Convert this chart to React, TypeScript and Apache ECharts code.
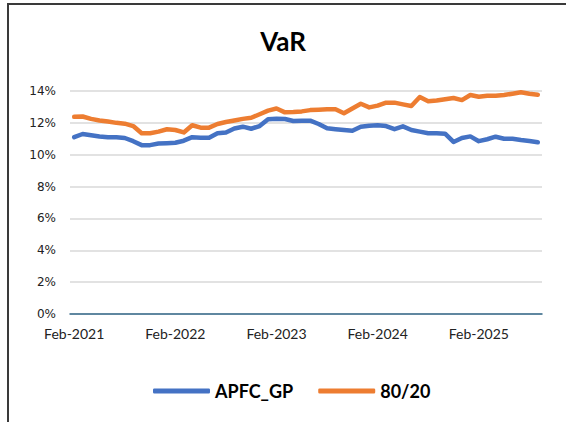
import React, { useEffect, useRef } from "react";
import * as echarts from "echarts";

const months = ["Jan","Feb","Mar","Apr","May","Jun","Jul","Aug","Sep","Oct","Nov","Dec"];
// Monthly categories Feb-2021 .. Sep-2025
const categories: string[] = [];
for (let y = 2021; y <= 2025; y++) {
  for (let m = 0; m < 12; m++) {
    if (y === 2021 && m < 1) continue;
    if (y === 2025 && m > 8) continue;
    categories.push(`${months[m]}-${y}`);
  }
}

const apfcGP = [
  11.1, 11.3, 11.22, 11.15, 11.1, 11.1, 11.05, 10.85, 10.6, 10.6,
  10.7, 10.72, 10.75, 10.88, 11.1, 11.07, 11.07, 11.35, 11.4, 11.65,
  11.76, 11.63, 11.8, 12.22, 12.26, 12.24, 12.12, 12.14, 12.14, 11.93,
  11.66, 11.6, 11.55, 11.5, 11.75, 11.82, 11.85, 11.8, 11.6, 11.78,
  11.55, 11.45, 11.35, 11.35, 11.32, 10.8, 11.05, 11.15, 10.85, 10.97,
  11.13, 11.0, 11.0, 10.92, 10.86, 10.78,
];

const eightyTwenty = [
  12.38, 12.4, 12.25, 12.15, 12.08, 12.0, 11.95, 11.8, 11.35, 11.35,
  11.45, 11.6, 11.55, 11.4, 11.85, 11.7, 11.7, 11.93, 12.05, 12.15,
  12.25, 12.32, 12.54, 12.77, 12.9, 12.66, 12.68, 12.72, 12.8, 12.83,
  12.85, 12.85, 12.6, 12.9, 13.2, 12.97, 13.08, 13.27, 13.27, 13.16,
  13.06, 13.62, 13.35, 13.4, 13.48, 13.56, 13.43, 13.75, 13.64, 13.7,
  13.7, 13.75, 13.83, 13.92, 13.83, 13.77,
];

const seriesNames = ["APFC_GP", "80/20"];
const colors = ["#4472C4", "#ED7D31"];

export default function App() {
  const ref = useRef<HTMLDivElement>(null);
  useEffect(() => {
    if (!ref.current) return;
    const chart = echarts.init(ref.current, undefined, { renderer: "svg" });
    chart.setOption({
      animation: false,
      backgroundColor: "#ffffff",
      title: {
        text: "VaR",
        left: "center",
        top: 23,
        textStyle: { fontFamily: "Lato", fontWeight: "bold", fontSize: 26, color: "#000" },
      },
      graphic: [
        {
          type: "rect",
          shape: { x: 8, y: 4, width: 620, height: 500 },
          style: { fill: "none", stroke: "#3a3a3a", lineWidth: 2 },
          silent: true,
        },
      ],
      legend: {
        bottom: 17,
        left: 148,
        icon: "roundRect",
        itemWidth: 57,
        itemHeight: 5,
        itemGap: 25,
        data: seriesNames,
        textStyle: { fontFamily: "Lato", fontWeight: "bold", fontSize: 18, color: "#000" },
      },
      grid: { left: 70, right: 24, top: 91, bottom: 108, containLabel: false },
      xAxis: {
        type: "category",
        data: categories,
        boundaryGap: true,
        axisLine: { lineStyle: { color: "#35698a", width: 1.5 } },
        axisTick: { interval: 11, length: 4, lineStyle: { color: "#35698a" } },
        axisLabel: {
          interval: 11,
          margin: 12,
          fontFamily: "Lato",
          fontSize: 14,
          color: "#222",
        },
        splitLine: { show: false },
      },
      yAxis: {
        type: "value",
        min: 0,
        max: 14,
        interval: 2,
        axisLine: { show: false },
        axisTick: { show: false },
        axisLabel: {
          formatter: "{value}%",
          margin: 14,
          fontFamily: "DejaVu Sans",
          fontSize: 12,
          color: "#222",
        },
        splitLine: { lineStyle: { color: "#d9d9d9", width: 1.5 } },
      },
      series: [
        {
          name: seriesNames[0],
          type: "line",
          data: apfcGP,
          symbol: "none",
          lineStyle: { color: colors[0], width: 4.5, cap: "round", join: "round" },
          itemStyle: { color: colors[0] },
        },
        {
          name: seriesNames[1],
          type: "line",
          data: eightyTwenty,
          symbol: "none",
          lineStyle: { color: colors[1], width: 4.5, cap: "round", join: "round" },
          itemStyle: { color: colors[1] },
        },
      ],
    });
    return () => chart.dispose();
  }, []);
  return (
    <div
      ref={ref}
      style={{ position: "fixed", left: 0, top: 0, width: 566, height: 422 }}
    />
  );
}
